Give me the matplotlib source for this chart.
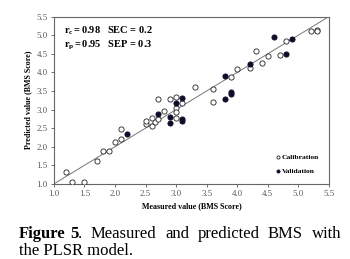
import matplotlib
matplotlib.use("Agg")
import matplotlib.pyplot as plt

plt.rcParams['mathtext.fontset'] = 'custom'
plt.rcParams['mathtext.rm'] = 'Liberation Serif'
plt.rcParams['mathtext.bf'] = 'Liberation Serif:bold'
plt.rcParams['mathtext.it'] = 'Liberation Serif:italic'

cal_x = [1.2, 1.3, 1.5, 1.7, 1.8, 1.9, 2.0, 2.1, 2.1, 2.5, 2.5, 2.6, 2.6, 2.65, 2.7, 2.7, 2.8,
         2.9, 3.0, 3.0, 3.0, 3.0, 3.1, 3.3, 3.6, 3.6, 3.9, 4.0, 4.2, 4.3, 4.4, 4.5, 4.7, 4.8,
         5.2, 5.3, 5.3]
cal_y = [1.32, 1.04, 1.06, 1.62, 1.88, 1.88, 2.12, 2.20, 2.47, 2.62, 2.69, 2.57, 2.77, 2.67, 2.74, 3.28, 2.95,
         3.28, 3.33, 3.05, 2.93, 2.76, 3.18, 3.60, 3.55, 3.20, 3.88, 4.08, 4.13, 4.58, 4.24, 4.44, 4.47, 4.85,
         5.10, 5.15, 5.10]
val_x = [2.2, 2.7, 2.9, 2.9, 3.0, 3.1, 3.1, 3.1, 3.8, 3.9, 3.9, 3.8, 4.2, 4.6, 4.8, 4.9]
val_y = [2.34, 2.87, 2.79, 2.65, 3.18, 3.32, 2.74, 2.68, 3.29, 3.41, 3.46, 3.90, 4.22, 4.94, 4.49, 4.90]
ticks = [1.0, 1.5, 2.0, 2.5, 3.0, 3.5, 4.0, 4.5, 5.0, 5.5]
caption_line1 = [("Figure", 'bold'), ("5", 'bold'), (".", 'normal'), ("Measured", 'normal'),
                 ("and", 'normal'), ("predicted", 'normal'), ("BMS", 'normal'), ("with", 'normal')]
caption_line2 = "the PLSR model."

fig = plt.figure(figsize=(3.5, 2.59), dpi=100)
ax = fig.add_axes([0.154, 0.290, 0.786, 0.646])
ax.plot([1.0, 5.5], [1.0, 5.5], color='#777777', lw=0.7, zorder=1)
ax.scatter(cal_x, cal_y, s=14, facecolors='white', edgecolors='#222222', linewidths=0.6,
           label='Calibration', zorder=3)
ax.scatter(val_x, val_y, s=14, facecolors='#0d0d2a', edgecolors='#0d0d2a', linewidths=0.6,
           label='Validation', zorder=3)
ax.set_xlim(1.0, 5.5)
ax.set_ylim(1.0, 5.5)
ax.set_xticks(ticks)
ax.set_yticks(ticks)
ax.set_xticklabels([f"{t:.1f}" for t in ticks])
ax.set_yticklabels([f"{t:.1f}" for t in ticks])
ax.tick_params(labelsize=6.3, colors='#555555', length=2.5, width=0.6, pad=2)
for t in ax.get_xticklabels() + ax.get_yticklabels():
    t.set_family('Liberation Serif')
for s in ax.spines.values():
    s.set_color('#666666')
    s.set_linewidth(0.8)
ax.set_xlabel('Measured value (BMS Score)', fontsize=5.8, fontweight='bold',
              family='Liberation Serif', labelpad=3)
ax.set_ylabel('Predicted value (BMS Score)', fontsize=5.8, fontweight='bold',
              family='Liberation Serif', labelpad=3)
ax.text(0.035, 0.915, r'$\mathbf{r_c = 0.98}$   SEC = 0.2', transform=ax.transAxes,
        fontsize=7.5, fontweight='bold', family='Liberation Serif', va='center')
ax.text(0.035, 0.83, r'$\mathbf{r_p = 0.95}$   SEP = 0.3', transform=ax.transAxes,
        fontsize=7.5, fontweight='bold', family='Liberation Serif', va='center')
leg = ax.legend(loc='lower right', frameon=False, fontsize=5.4, handletextpad=0.1,
                markerscale=0.6, labelspacing=1.1, borderaxespad=0.9, handlelength=1)
for t in leg.get_texts():
    t.set_family('Liberation Serif')
    t.set_fontweight('bold')

# justified caption line 1
cap_fs = 12.0
x0, x1 = 19 / 350, 341 / 350
y1, y2 = 1 - 238 / 259, 1 - 255 / 259
renderer = fig.canvas.get_renderer()
objs = []
for word, wt in caption_line1:
    objs.append(fig.text(0, y1, word, fontsize=cap_fs, family='Liberation Serif',
                         fontweight=wt, va='baseline'))
widths = [o.get_window_extent(renderer).width / fig.bbox.width for o in objs]
sp_small = 0.012
gaps_fixed = {1: sp_small, 2: 0.0}
n_free = len(objs) - 1 - len(gaps_fixed)
free = (x1 - x0 - sum(widths) - sum(gaps_fixed.values())) / n_free
x = x0
for i, o in enumerate(objs):
    o.set_x(x)
    if i + 1 < len(objs):
        x += widths[i] + gaps_fixed.get(i + 1, free)
fig.text(x0, y2, caption_line2, fontsize=cap_fs, family='Liberation Serif', va='baseline')

fig.savefig('out.png', dpi=100)
